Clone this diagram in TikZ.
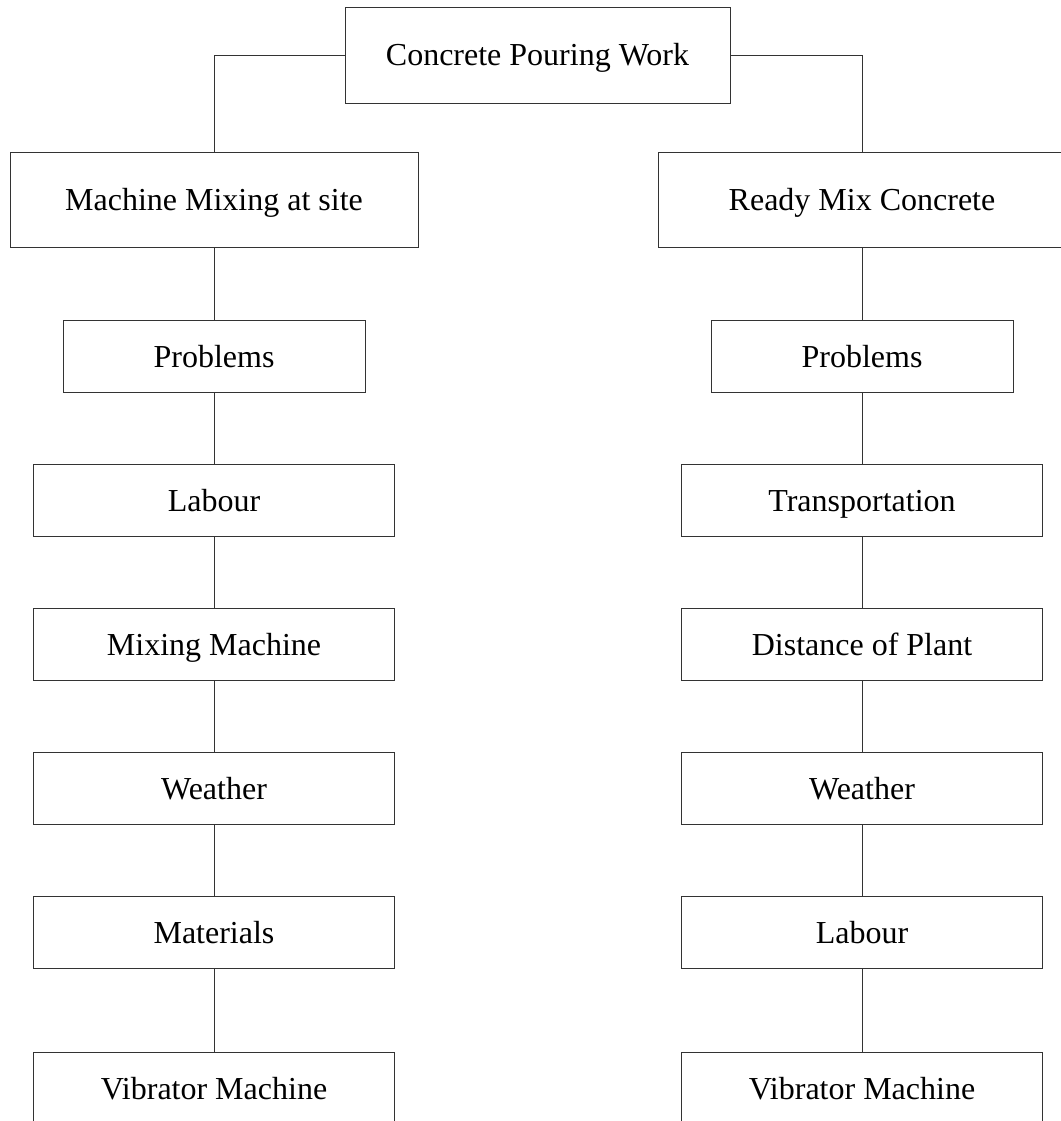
\documentclass[tikz,border=0pt]{standalone}
\usepackage{fontspec}
\setmainfont{Liberation Serif}
\begin{document}
\begin{tikzpicture}[x=1pt,y=-1pt,
  every node/.style={font=\fontsize{32}{38}\selectfont, text height=22pt, text depth=0pt},
  box/.style={draw=black!80, line width=0.9pt, rectangle, inner sep=0pt, minimum height=72pt},
  headbox/.style={box, minimum height=95pt, minimum width=408pt},
  probbox/.style={box, minimum width=302pt},
  itembox/.style={box, minimum width=361pt},
  link/.style={draw=black!80, line width=0.9pt}]
\useasboundingbox (0,0) rectangle (1060,1121);

% root
\node[box, minimum width=385pt, minimum height=96pt] (root) at (537.5,55) {Concrete Pouring Work};

% left branch: mixing at site
\node[headbox] (mix)  at (214,199.5) {Machine Mixing at site};
\node[probbox] (lp)   at (214,356) {Problems};
\node[itembox] (l1)   at (214,500) {Labour};
\node[itembox] (l2)   at (214,644) {Mixing Machine};
\node[itembox] (l3)   at (214,788) {Weather};
\node[itembox] (l4)   at (214,932) {Materials};
\node[itembox] (l5)   at (214,1088) {Vibrator Machine};

% right branch: ready mix
\node[headbox] (rmc)  at (862,199.5) {Ready Mix Concrete};
\node[probbox] (rp)   at (862,356) {Problems};
\node[itembox] (r1)   at (862,500) {Transportation};
\node[itembox] (r2)   at (862,644) {Distance of Plant};
\node[itembox] (r3)   at (862,788) {Weather};
\node[itembox] (r4)   at (862,932) {Labour};
\node[itembox] (r5)   at (862,1088) {Vibrator Machine};

% connectors
\draw[link] (root.west) -| (mix.north);
\draw[link] (root.east) -| (rmc.north);
\draw[link] (mix.south) -- (lp.north);
\draw[link] (lp.south) -- (l1.north);
\draw[link] (l1.south) -- (l2.north);
\draw[link] (l2.south) -- (l3.north);
\draw[link] (l3.south) -- (l4.north);
\draw[link] (l4.south) -- (l5.north);
\draw[link] (rmc.south) -- (rp.north);
\draw[link] (rp.south) -- (r1.north);
\draw[link] (r1.south) -- (r2.north);
\draw[link] (r2.south) -- (r3.north);
\draw[link] (r3.south) -- (r4.north);
\draw[link] (r4.south) -- (r5.north);
\end{tikzpicture}
\end{document}
